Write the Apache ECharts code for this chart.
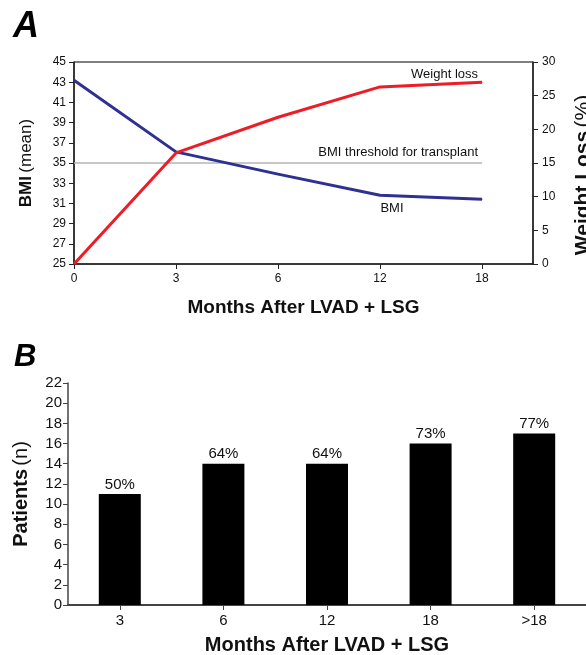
<!DOCTYPE html>
<html>
<head>
<meta charset="utf-8">
<script src="https://cdn.jsdelivr.net/npm/echarts@6/dist/echarts.min.js"></script>
<style>
html,body{margin:0;padding:0;background:#fff;}
#chart{width:586px;height:655px;}
</style>
</head>
<body>
<div id="chart"></div>
<script>
// ---- Data (panel A) ----
const MONTHS_A = ['0', '3', '6', '12', '18'];
const BMI = [43.2, 36.1, 33.9, 31.8, 31.4];
const WEIGHT_LOSS = [0, 16.5, 21.8, 26.3, 27.0];
const BMI_THRESHOLD = 35;
// ---- Data (panel B) ----
const MONTHS_B = ['3', '6', '12', '18', '>18'];
const PATIENTS = [11, 14, 14, 16, 17];
const PCT_LABELS = ['50%', '64%', '64%', '73%', '77%'];

const FONT = '"Liberation Sans", Arial, Helvetica, sans-serif';
const AX = '#222';
const BLUE = '#2E3192';
const RED = '#EE1C25';

const chart = echarts.init(document.getElementById('chart'), null, {renderer: 'canvas'});

const bmiData = BMI.map((v, i) => {
  const item = {value: [i, v]};
  if (i === 3) item.label = {show: true, formatter: 'BMI', position: 'bottom', distance: 6, offset: [12, 0], fontSize: 13, color: '#111', fontFamily: FONT};
  return item;
});
const wlData = WEIGHT_LOSS.map((v, i) => {
  const item = {value: [i, v]};
  if (i === WEIGHT_LOSS.length - 1) item.label = {show: true, formatter: 'Weight loss', position: 'top', align: 'right', distance: 1, offset: [-4, 0], fontSize: 13, color: '#111', fontFamily: FONT};
  return item;
});

const option = {
  animation: false,
  textStyle: {fontFamily: FONT},
  title: [
    {text: 'A', left: 8, top: 4, textStyle: {fontSize: 36, fontStyle: 'italic', fontWeight: 'bold', color: '#000', fontFamily: FONT}},
    {text: 'B', left: 9, top: 337, textStyle: {fontSize: 31, fontStyle: 'italic', fontWeight: 'bold', color: '#000', fontFamily: FONT}}
  ],
  grid: [
    {left: 74, top: 62, width: 459, height: 202, show: true, borderColor: '#000', borderWidth: 1, backgroundColor: 'transparent', containLabel: false, outerBoundsMode: 'none'},
    {left: 68, top: 383, width: 518, height: 222, containLabel: false, outerBoundsMode: 'none'}
  ],
  xAxis: [
    {
      gridIndex: 0, type: 'value', min: 0, max: MONTHS_A.length - 0.5, interval: 1,
      axisLine: {show: true, lineStyle: {color: AX, width: 1.5}},
      axisTick: {show: true, length: 5, lineStyle: {color: AX}},
      splitLine: {show: false},
      axisLabel: {color: '#111', fontSize: 12, margin: 9, showMaxLabel: false,
        formatter: v => (Number.isInteger(v) && MONTHS_A[v] !== undefined) ? MONTHS_A[v] : ''},
      name: 'Months After LVAD + LSG', nameLocation: 'middle', nameGap: 34,
      nameTextStyle: {fontSize: 19, fontWeight: 'bold', color: '#111'}
    },
    {
      gridIndex: 1, type: 'category', data: MONTHS_B,
      axisLine: {show: true, lineStyle: {color: '#444', width: 2}},
      axisTick: {show: true, alignWithLabel: true, length: 5, lineStyle: {color: '#444'}},
      axisLabel: {color: '#111', fontSize: 15, margin: 8},
      name: 'Months After LVAD + LSG', nameLocation: 'middle', nameGap: 30,
      nameTextStyle: {fontSize: 20, fontWeight: 'bold', color: '#111'}
    }
  ],
  yAxis: [
    {
      gridIndex: 0, type: 'value', min: 25, max: 45, interval: 2, position: 'left',
      axisLine: {show: true, lineStyle: {color: AX, width: 1.5}},
      axisTick: {show: true, length: 5, lineStyle: {color: AX}},
      splitLine: {show: false},
      axisLabel: {color: '#111', fontSize: 12, margin: 8},
      name: '{b|BMI} {n|(mean)}', nameLocation: 'middle', nameGap: 39, nameRotate: 90,
      nameTextStyle: {rich: {b: {fontSize: 17, fontWeight: 'bold', color: '#111', fontFamily: FONT}, n: {fontSize: 17, color: '#111', fontFamily: FONT}}}
    },
    {
      gridIndex: 0, type: 'value', min: 0, max: 30, interval: 5, position: 'right',
      axisLine: {show: true, lineStyle: {color: AX, width: 1.5}},
      axisTick: {show: true, length: 5, lineStyle: {color: AX}},
      splitLine: {show: false},
      axisLabel: {color: '#111', fontSize: 12, margin: 9},
      name: '{b|Weight Loss} {n|(%)}', nameLocation: 'middle', nameGap: 40, nameRotate: 90,
      nameTextStyle: {padding: [0, 24, 0, 0], rich: {b: {fontSize: 21, fontWeight: 'bold', color: '#111', fontFamily: FONT}, n: {fontSize: 21, color: '#111', fontFamily: FONT}}}
    },
    {
      gridIndex: 1, type: 'value', min: 0, max: 22, interval: 2,
      axisLine: {show: true, lineStyle: {color: '#444', width: 1.5}},
      axisTick: {show: true, length: 5, lineStyle: {color: '#444'}},
      splitLine: {show: false},
      axisLabel: {color: '#111', fontSize: 15, margin: 6},
      name: '{b|Patients} {n|(n)}', nameLocation: 'middle', nameGap: 37, nameRotate: 90,
      nameTextStyle: {rich: {b: {fontSize: 20, fontWeight: 'bold', color: '#111', fontFamily: FONT}, n: {fontSize: 20, color: '#111', fontFamily: FONT}}}
    }
  ],
  series: [
    {
      name: 'BMI', type: 'line', xAxisIndex: 0, yAxisIndex: 0,
      data: bmiData, symbol: 'circle', symbolSize: 1, showSymbol: true, z: 3,
      lineStyle: {color: BLUE, width: 3},
      itemStyle: {color: BLUE},
      markLine: {
        silent: true, symbol: ['none', 'none'], z: 1,
        lineStyle: {color: '#b4b4b4', width: 1.5, type: 'solid'},
        label: {show: true, position: 'insideEndTop', formatter: 'BMI threshold for transplant', fontSize: 13, color: '#111', distance: 4, fontFamily: FONT},
        data: [[{coord: [0, BMI_THRESHOLD]}, {coord: [MONTHS_A.length - 1, BMI_THRESHOLD]}]]
      }
    },
    {
      name: 'Weight loss', type: 'line', xAxisIndex: 0, yAxisIndex: 1,
      data: wlData, symbol: 'circle', symbolSize: 1, showSymbol: true, z: 4,
      lineStyle: {color: RED, width: 3},
      itemStyle: {color: RED}
    },
    {
      name: 'Patients', type: 'bar', xAxisIndex: 1, yAxisIndex: 2,
      data: PATIENTS, barWidth: 42,
      itemStyle: {color: '#000'},
      label: {show: true, position: 'top', distance: 2, fontSize: 15, color: '#111',
        formatter: p => PCT_LABELS[p.dataIndex]}
    }
  ]
};
chart.setOption(option);
</script>
</body>
</html>
